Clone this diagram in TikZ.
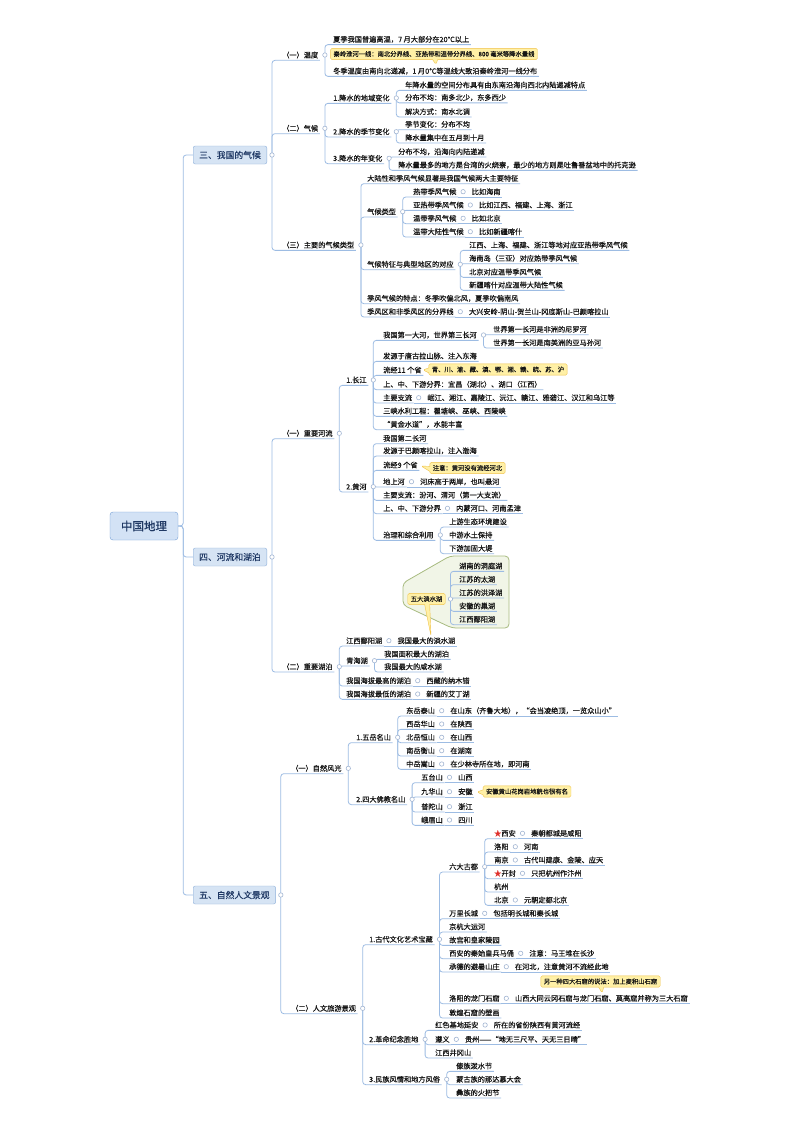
\documentclass[tikz,border=0pt]{standalone}
\usepackage{fontspec}
\newfontfamily\cjk[FakeBold=0.4]{Noto Sans CJK SC}
\usepackage{tikz}
\usetikzlibrary{positioning, shapes.callouts}
\definecolor{mline}{HTML}{9DBCE3}
\definecolor{mknob}{HTML}{A3B6D3}
\definecolor{mtext}{HTML}{141414}
\definecolor{mnavy}{HTML}{1F3864}
\definecolor{msecfill}{HTML}{D6E4F4}
\definecolor{msecdraw}{HTML}{8FB0DA}
\definecolor{mrootfill}{HTML}{D3E2F5}
\definecolor{mrootdraw}{HTML}{739FD6}
\definecolor{mnotefill}{HTML}{FFF0A6}
\definecolor{mnotedraw}{HTML}{F0C24A}
\definecolor{mlakefill}{HTML}{F1F5E7}
\definecolor{mlakedraw}{HTML}{A8BB80}
\definecolor{mstar}{HTML}{E0302A}
\tikzset{
  leaf/.style={anchor=west, font=\cjk\fontsize{7.2}{9}\selectfont, text=mtext,
               inner xsep=1.5pt, inner ysep=1.5pt, text height=6.4pt, text depth=0.9pt},
  val/.style={leaf, right=12pt of #1},
  secbox/.style={anchor=west, draw=msecdraw, fill=msecfill, rounded corners=2pt,
                 font=\cjk\fontsize{8.8}{10}\selectfont, text=mnavy,
                 minimum height=18pt, inner xsep=6pt},
  rootbox/.style={draw=mrootdraw, fill=mrootfill, rounded corners=3pt,
                  font=\cjk\fontsize{11.5}{13}\selectfont, text=mnavy,
                  minimum width=68pt, minimum height=28pt},
  notebox/.style={rectangle callout, draw=mnotedraw, fill=mnotefill, rounded corners=1.5pt,
                  font=\cjk\fontsize{6.3}{7}\selectfont, text=mtext, inner xsep=3pt,
                  inner ysep=2.5pt, text height=5.5pt, text depth=0.8pt,
                  callout pointer width=5pt},
  conn/.style={mline, line width=0.8pt, rounded corners=3pt},
  knob/.style={draw=mknob, fill=white, line width=0.6pt},
  lakezone/.style={draw=mlakedraw, fill=mlakefill, line width=0.8pt, rounded corners=4pt},
}

\begin{document}
\begin{tikzpicture}[x=1pt, y=-1pt]
  \useasboundingbox[fill=white] (0,0) rectangle (800,1132);

  %% ── 五大淡水湖: boundary ──
  \draw[lakezone] (450,556) -- (509,556) -- (509,628) -- (452,628)
                  -- (403,605) -- (403,583) -- cycle;

  %% ── root & sections ──
  \node[rootbox] (root) at (144,526) {中国地理};
  \node[secbox] (sec1) at (193,155) {三、我国的气候};
  \node[secbox] (sec2) at (193,557) {四、河流和湖泊};
  \node[secbox] (sec3) at (193,895) {五、自然人文景观};

  %% ── 三、我国的气候 ──
  \node[leaf] (c1) at (280.5,55) {（一）温度};
  \node[leaf] (c11) at (331.5,39.3) {夏季我国普遍高温，7 月大部分在20℃以上};
  \node[leaf] (c12) at (331.5,71) {冬季温度由南向北递减，1 月0℃等温线大致沿秦岭淮河一线分布};
  \node[notebox, callout absolute pointer={(436,64.5)}] (n1) at (434,54)
    {秦岭淮河一线：南北分界线、亚热带和温带分界线、800 毫米等降水量线};

  \node[leaf] (c2) at (280.5,128.3) {（二）气候};
  \node[leaf] (c21) at (331.5,98) {1.降水的地域变化};
  \node[leaf] (c211) at (403.5,85) {年降水量的空间分布具有由东南沿海向西北内陆递减特点};
  \node[leaf] (c212) at (403.5,97.5) {分布不均：南多北少，东多西少};
  \node[leaf] (c213) at (403.5,111.7) {解决方式：南水北调};
  \node[leaf] (c22) at (331.5,131.7) {2.降水的季节变化};
  \node[leaf] (c221) at (403.5,124.3) {季节变化：分布不均};
  \node[leaf] (c222) at (403.5,137.7) {降水量集中在五月到十月};
  \node[leaf] (c23) at (331.5,158.3) {3.降水的年变化};
  \node[leaf] (c231) at (396.5,151.7) {分布不均，沿海向内陆递减};
  \node[leaf] (c232) at (396.5,165) {降水量最多的地方是台湾的火烧寮，最少的地方则是吐鲁番盆地中的托克逊};

  \node[leaf] (c3) at (280.5,245) {（三）主要的气候类型};
  \node[leaf] (c31) at (365.5,178.3) {大陆性和季风气候显著是我国气候两大主要特征};
  \node[leaf] (c32) at (365.5,211.7) {气候类型};
  \node[leaf] (c321) at (411.5,191.7) {热带季风气候};
  \node[val=c321] (c321v) {比如海南};
  \node[leaf] (c322) at (411.5,205) {亚热带季风气候};
  \node[val=c322] (c322v) {比如江西、福建、上海、浙江};
  \node[leaf] (c323) at (411.5,218.3) {温带季风气候};
  \node[val=c323] (c323v) {比如北京};
  \node[leaf] (c324) at (411.5,231.7) {温带大陆性气候};
  \node[val=c324] (c324v) {比如新疆喀什};
  \node[leaf] (c33) at (365.5,264.3) {气候特征与典型地区的对应};
  \node[leaf] (c331) at (467.5,245) {江西、上海、福建、浙江等地对应亚热带季风气候};
  \node[leaf] (c332) at (467.5,258.3) {海南岛（三亚）对应热带季风气候};
  \node[leaf] (c333) at (467.5,272) {北京对应温带季风气候};
  \node[leaf] (c334) at (467.5,285) {新疆喀什对应温带大陆性气候};
  \node[leaf] (c34) at (365.5,298.3) {季风气候的特点：冬季吹偏北风，夏季吹偏南风};
  \node[leaf] (c35) at (365.5,311.7) {季风区和非季风区的分界线};
  \node[val=c35] (c35v) {大兴安岭-阴山-贺兰山-冈底斯山-巴颜喀拉山};

  %% ── 四、河流和湖泊 ──
  \node[leaf] (r1) at (280.5,433.3) {（一）重要河流};
  \node[leaf] (r11) at (344.5,380) {1.长江};
  \node[leaf] (r111) at (381.5,335) {我国第一大河，世界第三长河};
  \node[leaf] (r1111) at (491.5,329.3) {世界第一长河是非洲的尼罗河};
  \node[leaf] (r1112) at (491.5,342.7) {世界第一长河是南美洲的亚马孙河};
  \node[leaf] (r112) at (381.5,356) {发源于唐古拉山脉、注入东海};
  \node[leaf] (r113) at (381.5,370) {流经11 个省};
  \node[notebox, callout absolute pointer={(423,370)}] (n2) at (498,369.5)
    {青、川、渝、藏、滇、鄂、湘、赣、皖、苏、沪};
  \node[leaf] (r114) at (381.5,384.3) {上、中、下游分界：宜昌（湖北）、湖口（江西）};
  \node[leaf] (r115) at (381.5,397.7) {主要支流};
  \node[val=r115] (r115v) {岷江、湘江、嘉陵江、沅江、赣江、雅砻江、汉江和乌江等};
  \node[leaf] (r116) at (381.5,411) {三峡水利工程：瞿塘峡、巫峡、西陵峡};
  \node[leaf] (r117) at (381.5,424.3) {“黄金水道”，水能丰富};

  \node[leaf] (r12) at (344.5,486.7) {2.黄河};
  \node[leaf] (r121) at (381.5,438.3) {我国第二长河};
  \node[leaf] (r122) at (381.5,450.7) {发源于巴颜喀拉山，注入渤海};
  \node[leaf] (r123) at (381.5,465) {流经9 个省};
  \node[notebox, callout absolute pointer={(421,466)}] (n3) at (467.5,468)
    {注意：黄河没有流经河北};
  \node[leaf] (r124) at (381.5,481.7) {地上河};
  \node[val=r124] (r124v) {河床高于两岸，也叫悬河};
  \node[leaf] (r125) at (381.5,495) {主要支流：汾河、渭河（第一大支流）};
  \node[leaf] (r126) at (381.5,508.3) {上、中、下游分界};
  \node[val=r126] (r126v) {内蒙河口、河南孟津};
  \node[leaf] (r127) at (381.5,535) {治理和综合利用};
  \node[leaf] (r1271) at (447.5,521.7) {上游生态环境建设};
  \node[leaf] (r1272) at (447.5,535) {中游水土保持};
  \node[leaf] (r1273) at (447.5,548.3) {下游加固大堤};

  \node[leaf] (r2) at (280.5,666.7) {（二）重要湖泊};
  \node[leaf] (r21) at (344.5,640.7) {江西鄱阳湖};
  \node[val=r21] (r21v) {我国最大的淡水湖};
  \node[notebox, callout absolute pointer={(431,636)}] (n4) at (426.5,599) {五大淡水湖};
  \node[leaf] (lk1) at (457.5,566) {湖南的洞庭湖};
  \node[leaf] (lk2) at (457.5,579.3) {江苏的太湖};
  \node[leaf] (lk3) at (457.5,592.7) {江苏的洪泽湖};
  \node[leaf] (lk4) at (457.5,606) {安徽的巢湖};
  \node[leaf] (lk5) at (457.5,619.3) {江西鄱阳湖};
  \node[leaf] (r22) at (344.5,660.7) {青海湖};
  \node[leaf] (r221) at (382.5,654) {我国面积最大的湖泊};
  \node[leaf] (r222) at (382.5,666.7) {我国最大的咸水湖};
  \node[leaf] (r23) at (344.5,680.7) {我国海拔最高的湖泊};
  \node[val=r23] (r23v) {西藏的纳木错};
  \node[leaf] (r24) at (344.5,694) {我国海拔最低的湖泊};
  \node[val=r24] (r24v) {新疆的艾丁湖};

  %% ── 五、自然人文景观 ──
  \node[leaf] (s1) at (289.5,768.3) {（一）自然风光};
  \node[leaf] (s11) at (354.5,737.3) {1.五岳名山};
  \node[leaf] (m1) at (404.5,710.7) {东岳泰山};
  \node[val=m1] (m1v) {在山东（齐鲁大地），“会当凌绝顶，一览众山小”};
  \node[leaf] (m2) at (404.5,724) {西岳华山};
  \node[val=m2] (m2v) {在陕西};
  \node[leaf] (m3) at (404.5,737.3) {北岳恒山};
  \node[val=m3] (m3v) {在山西};
  \node[leaf] (m4) at (404.5,750.7) {南岳衡山};
  \node[val=m4] (m4v) {在湖南};
  \node[leaf] (m5) at (404.5,764) {中岳嵩山};
  \node[val=m5] (m5v) {在少林寺所在地，即河南};
  \node[leaf] (s12) at (354.5,799.3) {2.四大佛教名山};
  \node[leaf] (b1) at (419.5,777.3) {五台山};
  \node[val=b1] (b1v) {山西};
  \node[leaf] (b2) at (419.5,791.7) {九华山};
  \node[val=b2] (b2v) {安徽};
  \node[notebox, callout absolute pointer={(477,792)}] (n5) at (527,791.5)
    {安徽黄山花岗岩地貌也很有名};
  \node[leaf] (b3) at (419.5,806.7) {普陀山};
  \node[val=b3] (b3v) {浙江};
  \node[leaf] (b4) at (419.5,820) {峨眉山};
  \node[val=b4] (b4v) {四川};

  \node[leaf] (s2) at (289.5,1008.3) {（二）人文旅游景观};
  \node[leaf] (s21) at (367.5,939.3) {1.古代文化艺术宝藏};
  \node[leaf] (g0) at (447.5,866.7) {六大古都};
  \node[leaf] (d1) at (492.5,833.3) {{\color{mstar}★}西安};
  \node[val=d1] (d1v) {秦朝都城是咸阳};
  \node[leaf] (d2) at (492.5,846.7) {洛阳};
  \node[val=d2] (d2v) {河南};
  \node[leaf] (d3) at (492.5,860) {南京};
  \node[val=d3] (d3v) {古代叫建康、金陵、应天};
  \node[leaf] (d4) at (492.5,873.3) {{\color{mstar}★}开封};
  \node[val=d4] (d4v) {只把杭州作汴州};
  \node[leaf] (d5) at (492.5,886.7) {杭州};
  \node[leaf] (d6) at (492.5,900) {北京};
  \node[val=d6] (d6v) {元朝定都北京};
  \node[leaf] (g1) at (447.5,913.3) {万里长城};
  \node[val=g1] (g1v) {包括明长城和秦长城};
  \node[leaf] (g2) at (447.5,926.7) {京杭大运河};
  \node[leaf] (g3) at (447.5,940) {故宫和皇家陵园};
  \node[leaf] (g4) at (447.5,953.3) {西安的秦始皇兵马俑};
  \node[val=g4] (g4v) {注意：马王堆在长沙};
  \node[leaf] (g5) at (447.5,966.7) {承德的避暑山庄};
  \node[val=g5] (g5v) {在河北，注意黄河不流经此地};
  \node[notebox, callout absolute pointer={(602,993)}] (n6) at (600.5,981.5)
    {另一种四大石窟的说法：加上麦积山石窟};
  \node[leaf] (g6) at (447.5,998.3) {洛阳的龙门石窟};
  \node[val=g6] (g6v) {山西大同云冈石窟与龙门石窟、莫高窟并称为三大石窟};
  \node[leaf] (g7) at (447.5,1012.7) {敦煌石窟的壁画};
  \node[leaf] (s22) at (367.5,1039.3) {2.革命纪念胜地};
  \node[leaf] (v1) at (433.5,1025) {红色基地延安};
  \node[val=v1] (v1v) {所在的省份陕西有黄河流经};
  \node[leaf] (v2) at (433.5,1039.3) {遵义};
  \node[val=v2] (v2v) {贵州——“地无三尺平、天无三日晴”};
  \node[leaf] (v3) at (433.5,1052.7) {江西井冈山};
  \node[leaf] (s23) at (367.5,1079.3) {3.民族风情和地方风俗};
  \node[leaf] (f1) at (454.5,1066) {傣族泼水节};
  \node[leaf] (f2) at (454.5,1079.3) {蒙古族的那达慕大会};
  \node[leaf] (f3) at (454.5,1092.7) {彝族的火把节};

  %% ── connectors ──
  \foreach \s in {sec1,sec2,sec3}
    \draw[conn] (root.east) -- ++(5,0) |- (\s.west);
  \foreach \p/\cl in {sec1/{c1,c2,c3}, c1/{c11,c12}, c2/{c21,c22,c23},
      c21/{c211,c212,c213}, c22/{c221,c222}, c23/{c231,c232},
      c3/{c31,c32,c33,c34,c35}, c32/{c321,c322,c323,c324}, c33/{c331,c332,c333,c334},
      sec2/{r1,r2}, r1/{r11,r12}, r11/{r111,r112,r113,r114,r115,r116,r117},
      r111/{r1111,r1112}, r12/{r121,r122,r123,r124,r125,r126,r127},
      r127/{r1271,r1272,r1273}, r2/{r21,r22,r23,r24}, r22/{r221,r222},
      n4/{lk1,lk2,lk3,lk4,lk5},
      sec3/{s1,s2}, s1/{s11,s12}, s11/{m1,m2,m3,m4,m5}, s12/{b1,b2,b3,b4},
      s2/{s21,s22,s23}, s21/{g0,g1,g2,g3,g4,g5,g6,g7}, g0/{d1,d2,d3,d4,d5,d6},
      s22/{v1,v2,v3}, s23/{f1,f2,f3}}
    \foreach \c in \cl
      \draw[conn] ([xshift=5pt]\p.east) |- (\c.south east);
  \foreach \p in {c321,c322,c323,c324,c35,r115,r124,r126,r21,r23,r24,
      m1,m2,m3,m4,m5,b1,b2,b3,b4,d1,d2,d3,d4,d6,g1,g4,g5,g6,v1,v2}
    \draw[conn] (\p.south east) -- (\p v.south east);

  %% ── knobs ──
  \foreach \p in {sec1,sec2,sec3,c1,c2,c21,c22,c23,c3,c32,c33,c321,c322,c323,c324,c35,
      r1,r11,r111,r115,r12,r124,r126,r127,r2,r21,r22,r23,r24,n4,
      s1,s11,s12,m1,m2,m3,m4,m5,b1,b2,b3,b4,s2,s21,g0,d1,d2,d3,d4,d6,
      g1,g4,g5,g6,s22,v1,v2,s23}
    \draw[knob] ([xshift=5pt]\p.east) circle (2.2pt);
\end{tikzpicture}
\end{document}
